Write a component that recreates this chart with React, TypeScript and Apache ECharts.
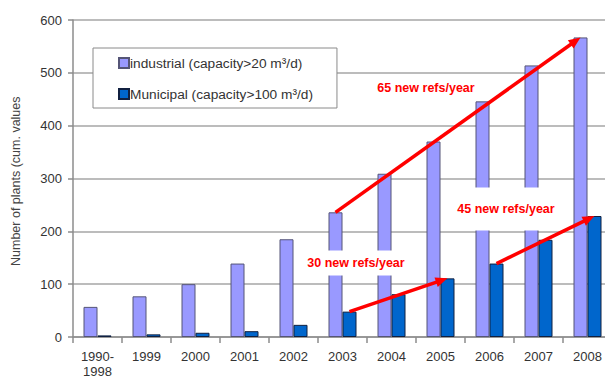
import React, { useEffect, useRef } from "react";
import * as echarts from "echarts";

const categories = ["1990-\n1998", "1999", "2000", "2001", "2002", "2003", "2004", "2005", "2006", "2007", "2008"];
const industrial = [57, 77, 100, 139, 185, 236, 309, 370, 446, 514, 567];
const municipal = [3, 5, 8, 11, 23, 48, 81, 111, 139, 184, 229];
const seriesNames = ["industrial (capacity>20 m³/d)", "Municipal (capacity>100 m³/d)"];
const yTicks = [0, 100, 200, 300, 400, 500, 600];

// arrows: [seriesIndex, fromCategoryIndex, toCategoryIndex]
const arrows: [number, number, number][] = [
  [0, 5, 10],
  [1, 5, 7],
  [1, 8, 10],
];
const arrowLabels = ["65 new refs/year", "30 new refs/year", "45 new refs/year"];

const BAR_W = 14;
const FONT = "Liberation Sans, Arial, sans-serif";

export default function App() {
  const ref = useRef<HTMLDivElement>(null);
  useEffect(() => {
    if (!ref.current) return;
    const chart = echarts.init(ref.current, undefined, { renderer: "svg" });
    const seriesData = [industrial, municipal];
    chart.setOption({
      animation: false,
      textStyle: { fontFamily: FONT },
      grid: { left: 73, top: 20, bottom: 43, right: -7, containLabel: false, outerBoundsMode: "none" },
      legend: {
        orient: "vertical",
        left: 93,
        top: 48,
        padding: [8, 24, 7, 25],
        itemGap: 17,
        itemWidth: 10,
        itemHeight: 10,
        icon: "rect",
        backgroundColor: "#fff",
        borderColor: "#8a8a8a",
        borderWidth: 1,
        textStyle: { fontSize: 13.7, color: "#333", fontFamily: FONT, padding: [0, 0, 0, -4] },
        data: seriesNames,
      },
      xAxis: {
        type: "category",
        data: categories,
        axisLine: { lineStyle: { color: "#8c8c8c", width: 1.5 } },
        axisTick: { show: true, length: 6, lineStyle: { color: "#8c8c8c", width: 1.5 } },
        axisLabel: { fontSize: 13, color: "#333", margin: 12, lineHeight: 15, interval: 0 },
      },
      yAxis: {
        type: "value",
        min: 0,
        max: 600,
        interval: 100,
        axisLine: { show: true, lineStyle: { color: "#8c8c8c", width: 1.5 } },
        axisTick: { show: true, length: 5, lineStyle: { color: "#8c8c8c", width: 1.5 } },
        axisLabel: { fontSize: 13, color: "#333", margin: 11, formatter: (v: number) => (yTicks.includes(v) ? String(v) : "") },
        splitLine: { lineStyle: { color: "#a6a6a6", width: 1.5 } },
      },
      series: [
        {
          name: seriesNames[0],
          type: "bar",
          data: industrial,
          barWidth: BAR_W,
          barGap: "0%",
          itemStyle: { color: "#9999FF", borderColor: "#555577", borderWidth: 1 },
        },
        {
          name: seriesNames[1],
          type: "bar",
          data: municipal,
          barWidth: BAR_W,
          barGap: "0%",
          itemStyle: { color: "#0066CC", borderColor: "#112040", borderWidth: 1 },
        },
      ],
    });

    const pt = (s: number, c: number) => {
      const p = chart.convertToPixel({ xAxisIndex: 0, yAxisIndex: 0 }, [c, seriesData[s][c]]) as number[];
      return [p[0] + (s === 0 ? -BAR_W / 2 : BAR_W / 2), p[1]];
    };

    const graphics: any[] = [];
    arrows.forEach(([s, a, b]) => {
      const p0 = pt(s, a);
      const p1 = pt(s, b);
      const dx = p1[0] - p0[0];
      const dy = p1[1] - p0[1];
      const len = Math.sqrt(dx * dx + dy * dy);
      const ux = dx / len;
      const uy = dy / len;
      const L = 12;
      const W = 5;
      const bx = p1[0] - ux * L;
      const by = p1[1] - uy * L;
      graphics.push({
        type: "line",
        z: 110,
        shape: { x1: p0[0], y1: p0[1], x2: bx + ux * 2, y2: by + uy * 2 },
        style: { stroke: "#FF0000", lineWidth: 3.5 },
      });
      graphics.push({
        type: "polygon",
        z: 110,
        shape: {
          points: [
            [p1[0], p1[1]],
            [bx - uy * W, by + ux * W],
            [bx + uy * W, by - ux * W],
          ],
        },
        style: { fill: "#FF0000" },
      });
    });

    const labelPos = [
      [426, 88, [6, 6, 6, 6]],
      [356, 263, [6, 6, 6, 6]],
      [506, 209, [24, 6, 6, 6]],
    ];
    labelPos.forEach((lp, i) => {
      graphics.push({
        type: "text",
        z: 105,
        x: lp[0],
        y: lp[1],
        style: {
          text: arrowLabels[i],
          fill: "#FF0000",
          font: `bold 12.5px ${FONT}`,
          align: "center",
          verticalAlign: "middle",
          backgroundColor: "#fff",
          padding: lp[2],
        },
      });
    });

    graphics.push({
      type: "text",
      z: 105,
      x: 16,
      y: 266,
      rotation: Math.PI / 2,
      style: {
        text: "Number of plants (cum. values",
        fill: "#444",
        font: `12.5px ${FONT}`,
        align: "left",
        verticalAlign: "middle",
      },
    });

    chart.setOption({ graphic: graphics });
    return () => chart.dispose();
  }, []);
  return <div ref={ref} style={{ width: 605, height: 380, position: "absolute", left: 0, top: 0 }} />;
}
